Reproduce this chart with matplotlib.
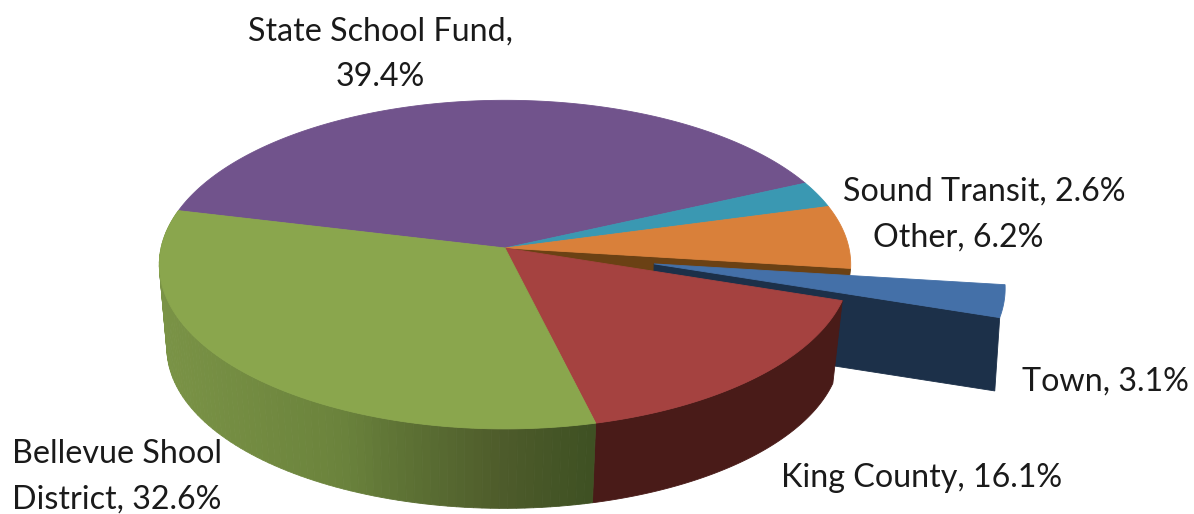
import numpy as np
import matplotlib
matplotlib.use("Agg")
import matplotlib.pyplot as plt
from matplotlib.patches import Polygon

categories = ["State School Fund", "Sound Transit", "Other", "Town", "King County", "Bellevue Shool\nDistrict"]
shares = [39.4, 2.6, 6.2, 3.1, 16.1, 32.6]
top_colors = ["#71538c", "#3a98b2", "#d9803a", "#4470a8", "#a54240", "#8aa64d"]
separators = [",\n", ", ", ", ", ", ", ", ", ", "]
label_anchor = [(380, 54, "center"), (843, 192, "left"), (873, 238, "left"),
                (1022, 382, "left"), (781, 478, "left"), (12, 477, "left")]

# Perspective camera for the disc
APEX = (505.0, 248.0)
CAM_DIST = 9.9
FOCAL_X = 3405.0
FOCAL_Y = 1610.0
START_ANGLE = 166.4   # degrees, slices run clockwise
TOWN_EXPLODE = 0.44


def project(theta, radius=1.0, offset=(0.0, 0.0), depth=0.0, shrink=1.0, shift=0.0):
    """Map polar disc coordinates to pixel positions; depth lowers the point."""
    t = np.radians(theta)
    X = radius * np.cos(t) + offset[0]
    Y = radius * np.sin(t) + offset[1]
    w = CAM_DIST + Y
    sx = X * FOCAL_X / w * shrink + shift
    sy = -Y * FOCAL_Y / w * shrink + depth
    return np.column_stack([APEX[0] + sx, APEX[1] + sy])


def wedge_outline(a0, a1, offset=(0.0, 0.0)):
    arc = project(np.linspace(a0, a1, 160), offset=offset)
    centre = project(np.array([0.0]), radius=0.0, offset=offset)
    return np.vstack([centre, arc])


fig = plt.figure(figsize=(11.94, 5.14), dpi=100)
ax = fig.add_axes([0, 0, 1, 1])
ax.set_xlim(0, 1194)
ax.set_ylim(514, 0)
ax.axis("off")

# Slice boundaries from the shares
edges = START_ANGLE - np.cumsum([0.0] + shares) * 3.6
bounds = list(zip(edges[:-1], edges[1:]))

BODY = dict(depth=84.0, shrink=0.975, shift=-1.0)
TOWN_BODY = dict(depth=74.0, shrink=0.99, shift=0.0)


def add(points, colour, z):
    ax.add_patch(Polygon(points, closed=True, facecolor=colour, edgecolor=colour,
                         linewidth=0.6, zorder=z))


# Cut face of the "Other" slice, seen through the gap left by Town
a_other = bounds[2][1]
apex_top = project(np.array([a_other]), radius=0.0)
rim_top = project(np.array([a_other]))
rim_low = project(np.array([a_other]), **BODY)
apex_low = project(np.array([a_other]), radius=0.0, **BODY)
add(np.vstack([apex_top, rim_top, rim_low, apex_low]), "#6b4114", 1)

# Rear slices
for i in (0, 1, 2):
    add(wedge_outline(*bounds[i]), top_colors[i], 2)

# Exploded Town slice
mid = np.radians(np.mean(bounds[3]))
town_off = (TOWN_EXPLODE * np.cos(mid), TOWN_EXPLODE * np.sin(mid))
a_town = bounds[3][1]
face = np.vstack([
    project(np.array([a_town]), radius=0.0, offset=town_off),
    project(np.array([a_town]), offset=town_off),
    project(np.array([a_town]), offset=town_off, **TOWN_BODY),
    project(np.array([a_town]), radius=0.0, offset=town_off, **TOWN_BODY),
])
add(face, "#1c3049", 3)
add(wedge_outline(*bounds[3], offset=town_off), top_colors[3], 4)

# Outer wall of King County
wall = np.linspace(bounds[4][0], bounds[4][1], 120)
add(np.vstack([project(wall), project(wall[::-1], **BODY)]), "#491b18", 5)

# Outer wall of the Bellevue slice, shaded in narrow vertical bands
shade_x = [160, 340, 400, 500, 590]
shade_rgb = np.array([[0x7a, 0x93, 0x46], [0x6b, 0x83, 0x3c], [0x5e, 0x73, 0x35],
                      [0x4e, 0x5c, 0x2b], [0x3f, 0x51, 0x23]]) / 255.0
steps = np.linspace(bounds[5][1], bounds[5][0], 90)
for a0, a1 in zip(steps[:-1], steps[1:]):
    seg = np.array([a0, a1])
    top = project(seg)
    low = project(seg[::-1], **BODY)
    xm = top[:, 0].mean()
    rgb = [np.interp(xm, shade_x, shade_rgb[:, c]) for c in range(3)]
    add(np.vstack([top, low]), tuple(rgb), 6)

# Front slices on top
add(wedge_outline(*bounds[4]), top_colors[4], 7)
add(wedge_outline(*bounds[5]), top_colors[5], 8)

# Data labels
for name, share, sep, (x, y, ha) in zip(categories, shares, separators, label_anchor):
    ax.text(x, y, f"{name}{sep}{share}%", ha=ha, va="center", multialignment=ha,
            fontsize=23.2, family="Lato", color="#1a1a1a", linespacing=1.63, zorder=20)

fig.savefig("out.png", dpi=100, facecolor="white")
